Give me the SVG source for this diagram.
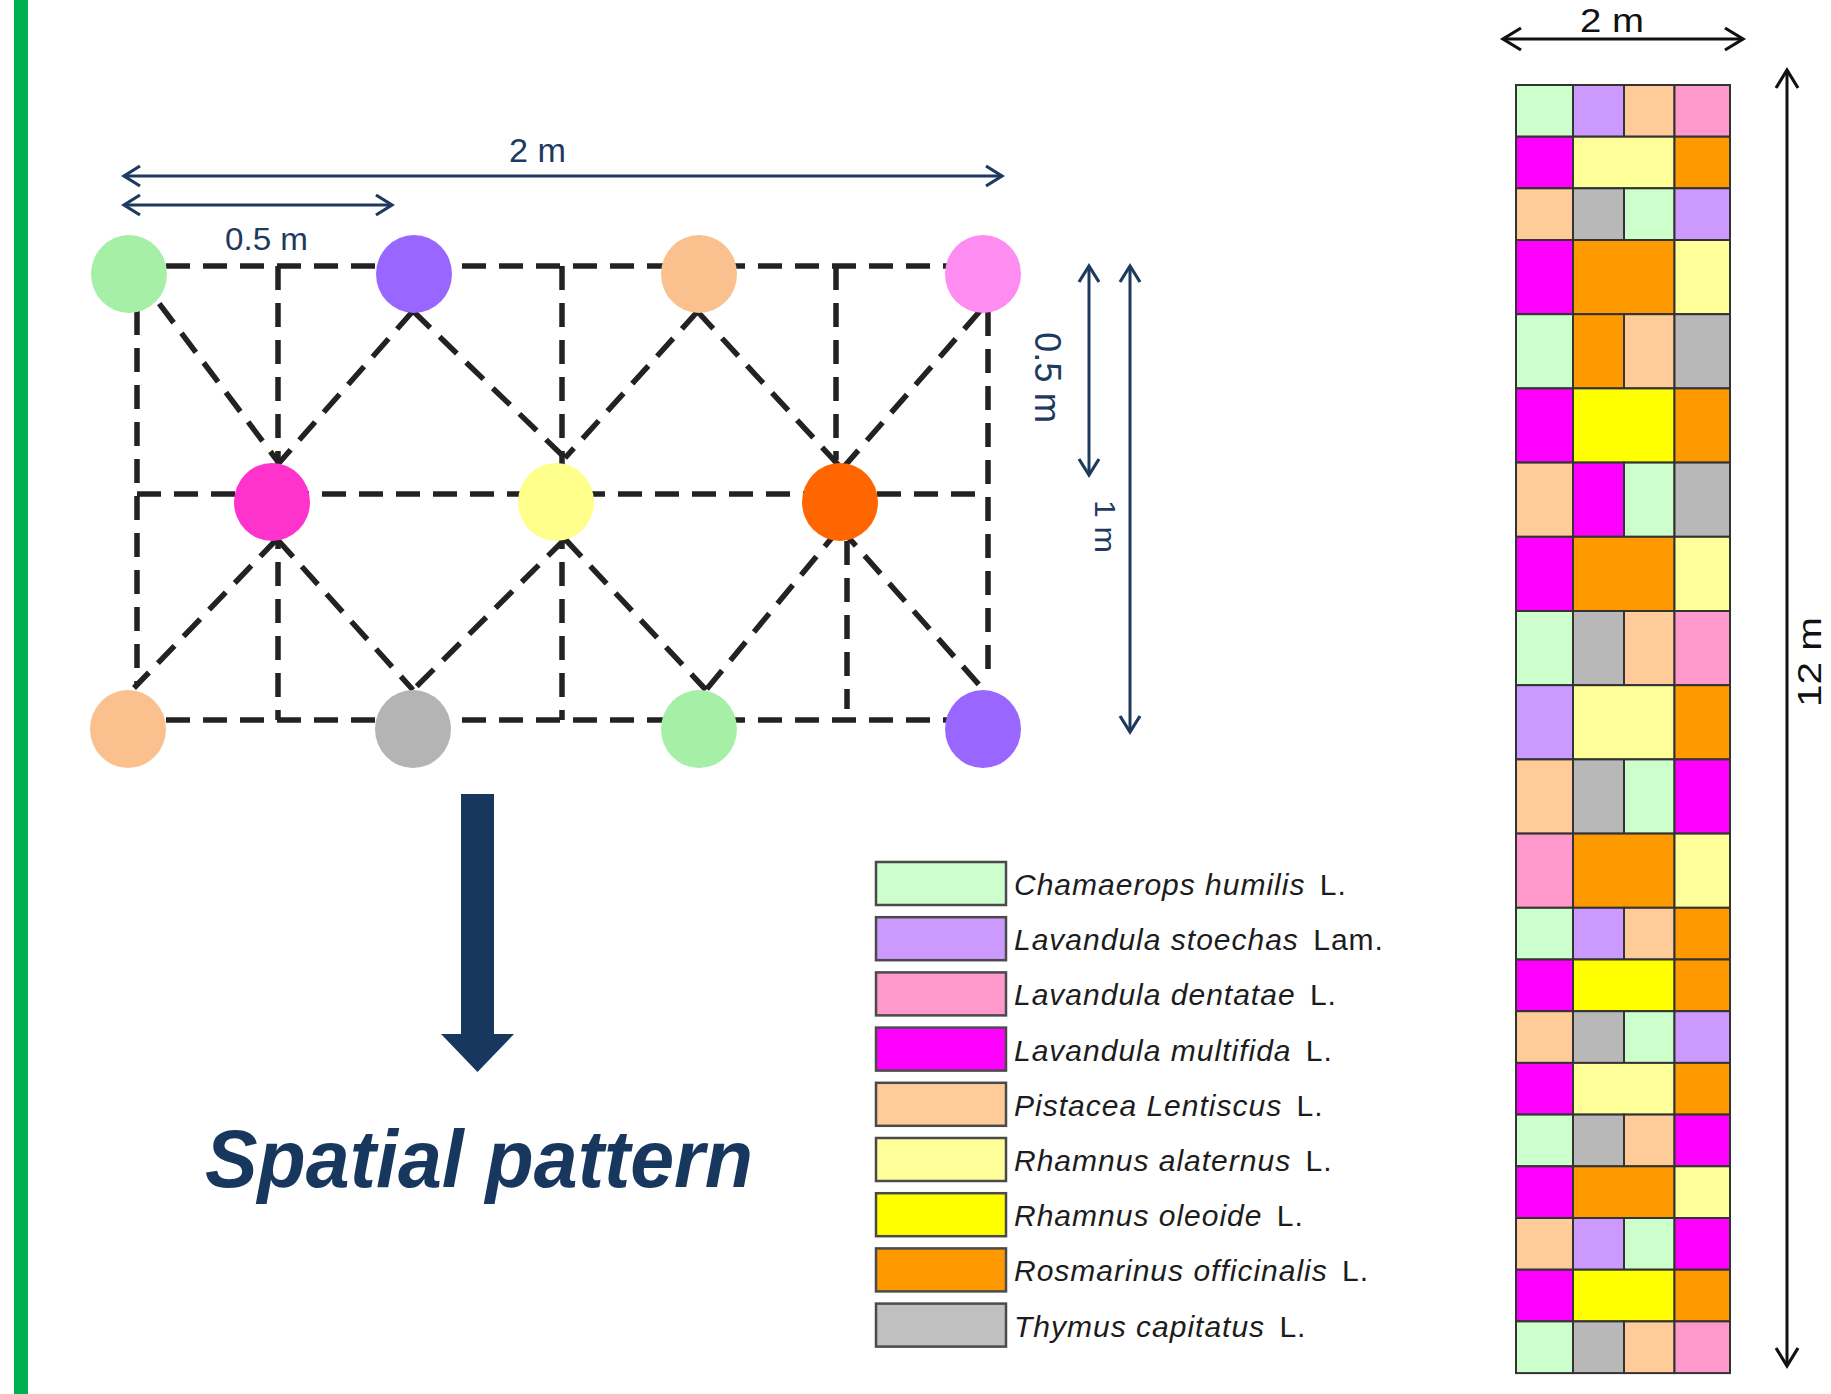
<svg xmlns="http://www.w3.org/2000/svg" width="1831" height="1394" viewBox="0 0 1831 1394">
<style>
.dash{fill:none;stroke:#222;stroke-width:5.5;stroke-dasharray:24 13}
.dim{fill:none;stroke:#1F3A5F;stroke-width:3}
.dimk{fill:none;stroke:#111;stroke-width:3}
.dimt{font-family:"Liberation Sans Narrow","Liberation Sans",Arial,sans-serif;fill:#1F3A5F}
.dimtk{font-family:"Liberation Sans",Arial,sans-serif;fill:#111}
.leg{font-family:"Liberation Sans",Arial,sans-serif;font-size:30px;fill:#1c1c1c;letter-spacing:1px}
.sp{font-style:italic}
.box{stroke:#4a4a4a;stroke-width:2.5}
.cell{stroke:#333;stroke-width:2}
.G{fill:#CCFFCC}.L{fill:#CC99FF}.P{fill:#FFCC99}.K{fill:#FF99CC}.M{fill:#FF00FF}.Y{fill:#FFFF99}.YY{fill:#FFFF00}.O{fill:#FF9900}.T{fill:#B8B8B8}
</style>
<defs>
<marker id="an" markerUnits="userSpaceOnUse" markerWidth="24" markerHeight="26" refX="19" refY="12" orient="auto-start-reverse" overflow="visible">
<path d="M3,2 L19,12 L3,22" fill="none" stroke="#1F3A5F" stroke-width="3.2"/>
</marker>
<marker id="ak" markerUnits="userSpaceOnUse" markerWidth="24" markerHeight="28" refX="20" refY="13" orient="auto-start-reverse" overflow="visible">
<path d="M2,2 L20,13 L2,24" fill="none" stroke="#111" stroke-width="3.2"/>
</marker>
</defs>
<rect x="0" y="0" width="1831" height="1394" fill="#ffffff"/>
<rect id="side-bar" x="14" y="0" width="14" height="1394" fill="#00B050"/>

<!-- dimension arrows -->
<g id="dimensions">
<line class="dim" x1="124" y1="176" x2="1002" y2="176" marker-start="url(#an)" marker-end="url(#an)"/>
<text class="dimt" x="509" y="162" font-size="33" textLength="57" lengthAdjust="spacingAndGlyphs">2 m</text>
<line class="dim" x1="124" y1="205" x2="392" y2="205" marker-start="url(#an)" marker-end="url(#an)"/>
<text class="dimt" x="225" y="250" font-size="32" textLength="83" lengthAdjust="spacingAndGlyphs">0.5 m</text>
<line class="dim" x1="1089" y1="266" x2="1089" y2="475" marker-start="url(#an)" marker-end="url(#an)"/>
<text class="dimt" transform="translate(1035,332) rotate(90)" font-size="36" textLength="91" lengthAdjust="spacingAndGlyphs">0.5 m</text>
<line class="dim" x1="1130" y1="266" x2="1130" y2="732" marker-start="url(#an)" marker-end="url(#an)"/>
<text class="dimt" transform="translate(1095,500) rotate(90)" font-size="30" textLength="53" lengthAdjust="spacingAndGlyphs">1 m</text>
<line class="dimk" x1="1503" y1="39" x2="1743" y2="39" marker-start="url(#ak)" marker-end="url(#ak)"/>
<text class="dimtk" x="1580" y="32" font-size="34" textLength="64" lengthAdjust="spacingAndGlyphs">2 m</text>
<line class="dimk" x1="1787" y1="70" x2="1787" y2="1366" marker-start="url(#ak)" marker-end="url(#ak)"/>
<text class="dimtk" transform="translate(1821,707) rotate(-90)" font-size="34" textLength="90" lengthAdjust="spacingAndGlyphs">12 m</text>
</g>

<!-- dashed connectors -->
<g id="connectors">
<path class="dash" d="M129,266 H983"/>
<path class="dash" d="M137,494 H988"/>
<path class="dash" d="M129,720 H983"/>
<path class="dash" d="M137,311 V685"/>
<path class="dash" d="M278,266 V720"/>
<path class="dash" d="M562,266 V720"/>
<path class="dash" d="M836,266 V460"/>
<path class="dash" d="M847,541 V709"/>
<path class="dash" d="M988,312 V680"/>
<path class="dash" d="M137,274 L279,463"/>
<path class="dash" d="M413,311 L279,463"/>
<path class="dash" d="M413,311 L565,458"/>
<path class="dash" d="M698,311 L565,458"/>
<path class="dash" d="M697,311 L842,469"/>
<path class="dash" d="M980,311 L842,469"/>
<path class="dash" d="M277,539 L134,688"/>
<path class="dash" d="M277,539 L413,690"/>
<path class="dash" d="M565,539 L413,690"/>
<path class="dash" d="M565,539 L706,690"/>
<path class="dash" d="M840,528 L706,690"/>
<path class="dash" d="M840,528 L982,688"/>
</g>

<!-- plant nodes -->
<g id="node-r1c1"><ellipse cx="129" cy="274" rx="38" ry="39" fill="#A6EFA6"/></g>
<g id="node-r1c2"><ellipse cx="414" cy="274" rx="38" ry="39" fill="#9966FF"/></g>
<g id="node-r1c3"><ellipse cx="699" cy="274" rx="38" ry="39" fill="#FAC18F"/></g>
<g id="node-r1c4"><ellipse cx="983" cy="274" rx="38" ry="39" fill="#FF8CF0"/></g>
<g id="node-r2c1"><ellipse cx="272" cy="502" rx="38" ry="39" fill="#FF33CC"/></g>
<g id="node-r2c2"><ellipse cx="556" cy="502" rx="38" ry="39" fill="#FFFF8C"/></g>
<g id="node-r2c3"><ellipse cx="840" cy="502" rx="38" ry="39" fill="#FF6600"/></g>
<g id="node-r3c1"><ellipse cx="128" cy="729" rx="38" ry="39" fill="#FAC18F"/></g>
<g id="node-r3c2"><ellipse cx="413" cy="729" rx="38" ry="39" fill="#B4B4B4"/></g>
<g id="node-r3c3"><ellipse cx="699" cy="729" rx="38" ry="39" fill="#A6EFA6"/></g>
<g id="node-r3c4"><ellipse cx="983" cy="729" rx="38" ry="39" fill="#9966FF"/></g>

<!-- big arrow and title -->
<g id="down-arrow">
<path d="M461,794 H494 V1034 H514 L477.5,1072 L441,1034 H461 Z" fill="#17375E"/>
</g>
<g id="title">
<text x="205" y="1187" font-family="'Liberation Sans',Arial,sans-serif" font-size="82" font-weight="bold" font-style="italic" fill="#17375E" textLength="548" lengthAdjust="spacingAndGlyphs">Spatial pattern</text>
</g>

<!-- legend -->
<g id="legend">
<g id="legend-1"><rect class="box" x="876" y="862" width="130" height="43" fill="#CCFFCC"/><text class="leg" x="1014" y="895"><tspan class="sp">Chamaerops humilis</tspan><tspan dx="5"> L.</tspan></text></g>
<g id="legend-2"><rect class="box" x="876" y="917.2" width="130" height="43" fill="#CC99FF"/><text class="leg" x="1014" y="950.2"><tspan class="sp">Lavandula stoechas</tspan><tspan dx="5"> Lam.</tspan></text></g>
<g id="legend-3"><rect class="box" x="876" y="972.4" width="130" height="43" fill="#FF99CC"/><text class="leg" x="1014" y="1005.4"><tspan class="sp">Lavandula dentatae</tspan><tspan dx="5"> L.</tspan></text></g>
<g id="legend-4"><rect class="box" x="876" y="1027.6" width="130" height="43" fill="#FF00FF"/><text class="leg" x="1014" y="1060.6"><tspan class="sp">Lavandula multifida</tspan><tspan dx="5"> L.</tspan></text></g>
<g id="legend-5"><rect class="box" x="876" y="1082.8" width="130" height="43" fill="#FFCC99"/><text class="leg" x="1014" y="1115.8"><tspan class="sp">Pistacea Lentiscus</tspan><tspan dx="5"> L.</tspan></text></g>
<g id="legend-6"><rect class="box" x="876" y="1138" width="130" height="43" fill="#FFFF99"/><text class="leg" x="1014" y="1171"><tspan class="sp">Rhamnus alaternus</tspan><tspan dx="5"> L.</tspan></text></g>
<g id="legend-7"><rect class="box" x="876" y="1193.2" width="130" height="43" fill="#FFFF00"/><text class="leg" x="1014" y="1226.2"><tspan class="sp">Rhamnus oleoide</tspan><tspan dx="5"> L.</tspan></text></g>
<g id="legend-8"><rect class="box" x="876" y="1248.4" width="130" height="43" fill="#FF9900"/><text class="leg" x="1014" y="1281.4"><tspan class="sp">Rosmarinus officinalis</tspan><tspan dx="5"> L.</tspan></text></g>
<g id="legend-9"><rect class="box" x="876" y="1303.6" width="130" height="43" fill="#C0C0C0"/><text class="leg" x="1014" y="1336.6"><tspan class="sp">Thymus capitatus</tspan><tspan dx="5"> L.</tspan></text></g>
</g>

<!-- planting strip 2 m x 12 m -->
<g id="strip">
<g transform="translate(0,85)"><rect class="cell G" x="1516" y="0" width="57" height="51.7"/><rect class="cell L" x="1573" y="0" width="51" height="51.7"/><rect class="cell P" x="1624" y="0" width="50.5" height="51.7"/><rect class="cell K" x="1674.5" y="0" width="55.5" height="51.7"/></g>
<g transform="translate(0,136.7)"><rect class="cell M" x="1516" y="0" width="57" height="51.6"/><rect class="cell Y" x="1573" y="0" width="101.5" height="51.6"/><rect class="cell O" x="1674.5" y="0" width="55.5" height="51.6"/></g>
<g transform="translate(0,188.3)"><rect class="cell P" x="1516" y="0" width="57" height="51.7"/><rect class="cell T" x="1573" y="0" width="51" height="51.7"/><rect class="cell G" x="1624" y="0" width="50.5" height="51.7"/><rect class="cell L" x="1674.5" y="0" width="55.5" height="51.7"/></g>
<g transform="translate(0,240)"><rect class="cell M" x="1516" y="0" width="57" height="74.2"/><rect class="cell O" x="1573" y="0" width="101.5" height="74.2"/><rect class="cell Y" x="1674.5" y="0" width="55.5" height="74.2"/></g>
<g transform="translate(0,314.2)"><rect class="cell G" x="1516" y="0" width="57" height="74.2"/><rect class="cell O" x="1573" y="0" width="51" height="74.2"/><rect class="cell P" x="1624" y="0" width="50.5" height="74.2"/><rect class="cell T" x="1674.5" y="0" width="55.5" height="74.2"/></g>
<g transform="translate(0,388.4)"><rect class="cell M" x="1516" y="0" width="57" height="74.2"/><rect class="cell YY" x="1573" y="0" width="101.5" height="74.2"/><rect class="cell O" x="1674.5" y="0" width="55.5" height="74.2"/></g>
<g transform="translate(0,462.6)"><rect class="cell P" x="1516" y="0" width="57" height="74.2"/><rect class="cell M" x="1573" y="0" width="51" height="74.2"/><rect class="cell G" x="1624" y="0" width="50.5" height="74.2"/><rect class="cell T" x="1674.5" y="0" width="55.5" height="74.2"/></g>
<g transform="translate(0,536.8)"><rect class="cell M" x="1516" y="0" width="57" height="74.2"/><rect class="cell O" x="1573" y="0" width="101.5" height="74.2"/><rect class="cell Y" x="1674.5" y="0" width="55.5" height="74.2"/></g>
<g transform="translate(0,611)"><rect class="cell G" x="1516" y="0" width="57" height="74.2"/><rect class="cell T" x="1573" y="0" width="51" height="74.2"/><rect class="cell P" x="1624" y="0" width="50.5" height="74.2"/><rect class="cell K" x="1674.5" y="0" width="55.5" height="74.2"/></g>
<g transform="translate(0,685.2)"><rect class="cell L" x="1516" y="0" width="57" height="74.2"/><rect class="cell Y" x="1573" y="0" width="101.5" height="74.2"/><rect class="cell O" x="1674.5" y="0" width="55.5" height="74.2"/></g>
<g transform="translate(0,759.4)"><rect class="cell P" x="1516" y="0" width="57" height="74.2"/><rect class="cell T" x="1573" y="0" width="51" height="74.2"/><rect class="cell G" x="1624" y="0" width="50.5" height="74.2"/><rect class="cell M" x="1674.5" y="0" width="55.5" height="74.2"/></g>
<g transform="translate(0,833.6)"><rect class="cell K" x="1516" y="0" width="57" height="74.2"/><rect class="cell O" x="1573" y="0" width="101.5" height="74.2"/><rect class="cell Y" x="1674.5" y="0" width="55.5" height="74.2"/></g>
<g transform="translate(0,907.8)"><rect class="cell G" x="1516" y="0" width="57" height="51.7"/><rect class="cell L" x="1573" y="0" width="51" height="51.7"/><rect class="cell P" x="1624" y="0" width="50.5" height="51.7"/><rect class="cell O" x="1674.5" y="0" width="55.5" height="51.7"/></g>
<g transform="translate(0,959.5)"><rect class="cell M" x="1516" y="0" width="57" height="51.7"/><rect class="cell YY" x="1573" y="0" width="101.5" height="51.7"/><rect class="cell O" x="1674.5" y="0" width="55.5" height="51.7"/></g>
<g transform="translate(0,1011.2)"><rect class="cell P" x="1516" y="0" width="57" height="51.7"/><rect class="cell T" x="1573" y="0" width="51" height="51.7"/><rect class="cell G" x="1624" y="0" width="50.5" height="51.7"/><rect class="cell L" x="1674.5" y="0" width="55.5" height="51.7"/></g>
<g transform="translate(0,1062.9)"><rect class="cell M" x="1516" y="0" width="57" height="51.7"/><rect class="cell Y" x="1573" y="0" width="101.5" height="51.7"/><rect class="cell O" x="1674.5" y="0" width="55.5" height="51.7"/></g>
<g transform="translate(0,1114.6)"><rect class="cell G" x="1516" y="0" width="57" height="51.7"/><rect class="cell T" x="1573" y="0" width="51" height="51.7"/><rect class="cell P" x="1624" y="0" width="50.5" height="51.7"/><rect class="cell M" x="1674.5" y="0" width="55.5" height="51.7"/></g>
<g transform="translate(0,1166.3)"><rect class="cell M" x="1516" y="0" width="57" height="51.7"/><rect class="cell O" x="1573" y="0" width="101.5" height="51.7"/><rect class="cell Y" x="1674.5" y="0" width="55.5" height="51.7"/></g>
<g transform="translate(0,1218)"><rect class="cell P" x="1516" y="0" width="57" height="51.7"/><rect class="cell L" x="1573" y="0" width="51" height="51.7"/><rect class="cell G" x="1624" y="0" width="50.5" height="51.7"/><rect class="cell M" x="1674.5" y="0" width="55.5" height="51.7"/></g>
<g transform="translate(0,1269.7)"><rect class="cell M" x="1516" y="0" width="57" height="51.7"/><rect class="cell YY" x="1573" y="0" width="101.5" height="51.7"/><rect class="cell O" x="1674.5" y="0" width="55.5" height="51.7"/></g>
<g transform="translate(0,1321.4)"><rect class="cell G" x="1516" y="0" width="57" height="51.7"/><rect class="cell T" x="1573" y="0" width="51" height="51.7"/><rect class="cell P" x="1624" y="0" width="50.5" height="51.7"/><rect class="cell K" x="1674.5" y="0" width="55.5" height="51.7"/></g>
</g>
</svg>
